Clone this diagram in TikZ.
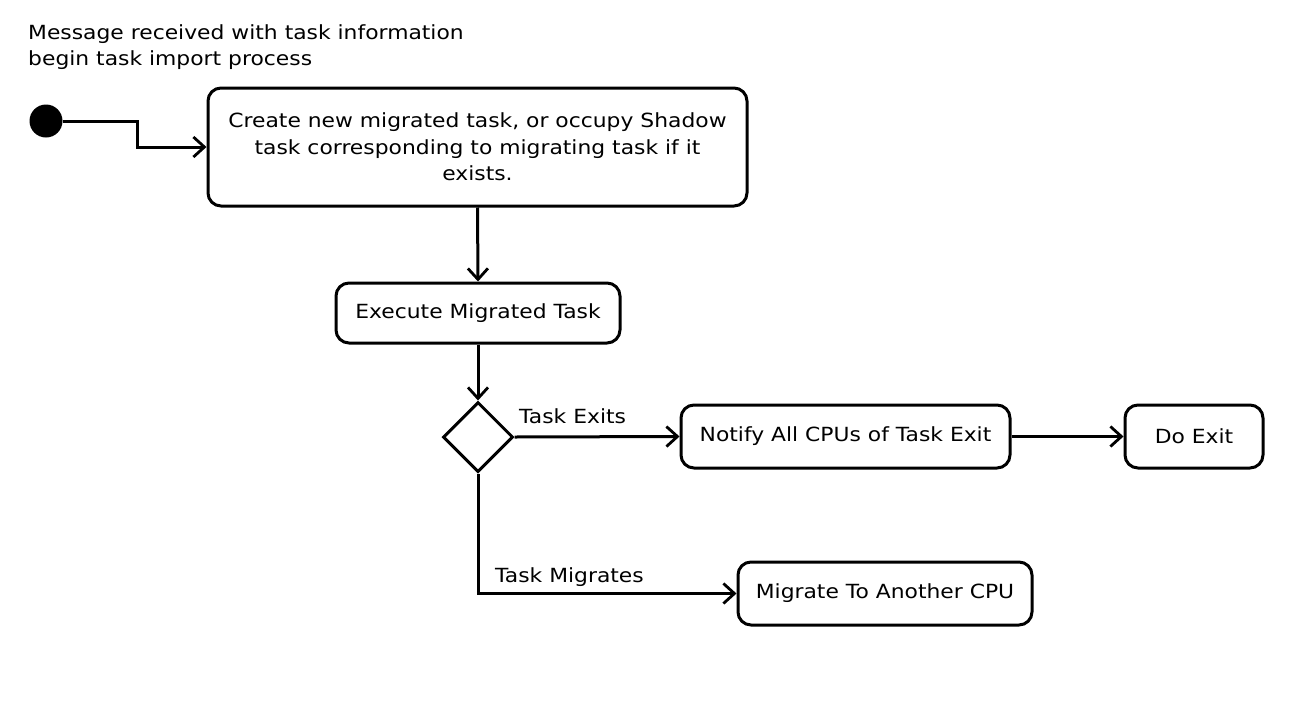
\documentclass[tikz,border=0pt]{standalone}
\usepackage{fontspec}
\setmainfont{DejaVu Sans}[FakeStretch=1.12]
\usetikzlibrary{shapes.geometric,arrows.meta}
\begin{document}
\begin{tikzpicture}[x=1pt,y=-1pt,
  every node/.style={font=\fontsize{19.5}{26.5}\selectfont},
  act/.style={draw,line width=3pt,rounded corners=13pt,align=center,inner sep=0pt},
  flow/.style={line width=3pt,-{Straight Barb[length=11pt,width=20pt,line width=2.8pt]}},
  lbl/.style={anchor=west,inner sep=0pt}]
\useasboundingbox (0,0) rectangle (1314,718);
\fill[white] (0,0) rectangle (1314,718);
\node[anchor=west,align=left,inner sep=0pt] (hdr) at (28,47) {Message received with task information\\begin task import process};
\node[circle,fill=black,minimum size=33pt,inner sep=0pt] (init) at (46,121) {};
\node[act,minimum width=539pt,minimum height=118pt] (box1) at (477.5,147) {Create new migrated task, or occupy Shadow\\task corresponding to migrating task if it\\exists.};
\node[act,minimum width=284pt,minimum height=60pt] (box2) at (478,313) {Execute Migrated Task};
\node[draw,diamond,line width=3pt,minimum width=70pt,minimum height=70pt,inner sep=0pt] (dia) at (478,437) {};
\node[act,minimum width=329pt,minimum height=63pt] (notify) at (845.5,436.5) {Notify All CPUs of Task Exit};
\node[act,minimum width=138pt,minimum height=63pt] (doexit) at (1194,436.5) {Do Exit};
\node[act,minimum width=294pt,minimum height=63pt] (migr) at (885,593.5) {Migrate To Another CPU};
\coordinate (bend) at (137,121);
\draw[flow] (init.east) -- (bend) |- (box1.west);
\draw[flow] (box1.south) -- (box2.north);
\draw[flow] (box2.south) -- (dia.north);
\draw[flow] (dia.east) -- (notify.west);
\draw[flow] (notify.east) -- (doexit.west);
\draw[flow] (dia.south) |- (migr.west);
\node[lbl] (lexit) at (519,416) {Task Exits};
\node[lbl] (lmig) at (495,577) {Task Migrates};
\end{tikzpicture}
\end{document}
